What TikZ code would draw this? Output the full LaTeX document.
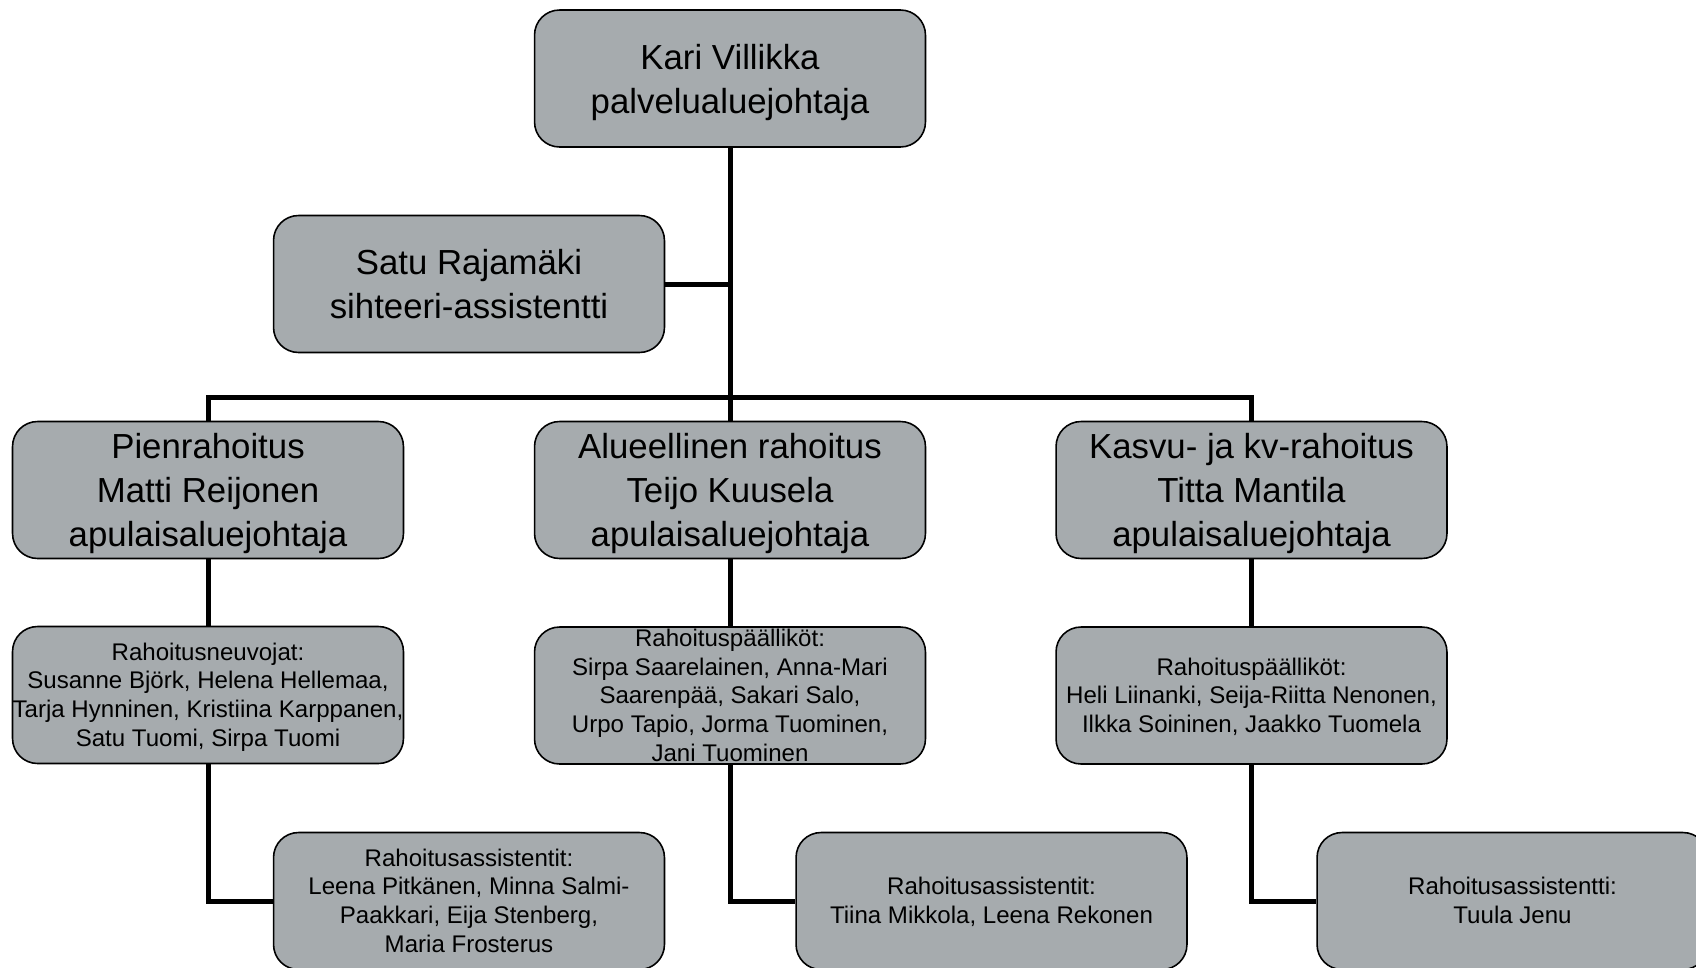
\documentclass[tikz,border=0pt]{standalone}
\usepackage{fontspec}
\setmainfont{Liberation Sans}
\definecolor{boxgray}{RGB}{166,171,174}
\newcommand{\orgbigs}{\rule[-5.25pt]{0pt}{25pt}}
\newcommand{\orgsmalls}{\rule[-3.45pt]{0pt}{16.4pt}}
\begin{document}
\begin{tikzpicture}[x=0.02cm,y=-0.02cm,
  box/.style={draw=black,line width=0.9pt,fill=boxgray,rounded corners=0.5cm,
    minimum width=7.82cm,minimum height=2.74cm,inner sep=0pt},
  big/.style={inner sep=0pt,align=center,font=\fontsize{19.8}{25}\selectfont},
  small/.style={inner sep=0pt,align=center,font=\fontsize{13.7}{16.4}\selectfont},
  conn/.style={line width=0.1cm,black}]
\useasboundingbox (0,0) rectangle (1696,967);
\clip (0,0) rectangle (1696,967);
\node[box] (top) at (730,78.5) {};
\node[box] (satu) at (469,284) {};
\node[box] (l2l) at (208,490) {};
\node[box] (l2m) at (730,490) {};
\node[box] (l2r) at (1251.5,490) {};
\node[box] (l3l) at (208,695) {};
\node[box] (l3m) at (730,695.5) {};
\node[box] (l3r) at (1251.5,695.5) {};
\node[box] (l4l) at (469,901) {};
\node[box] (l4m) at (991.5,901) {};
\node[box] (l4r) at (1512.5,901) {};
\node[big] (top-t) at (top) {\orgbigs Kari Villikka\\palvelualuejohtaja\orgbigs};
\node[big] (satu-t) at (satu) {\orgbigs Satu Rajamäki\\sihteeri-assistentti\orgbigs};
\node[big] (l2l-t) at (l2l) {\orgbigs Pienrahoitus\\Matti Reijonen\\apulaisaluejohtaja\orgbigs};
\node[big] (l2m-t) at (l2m) {\orgbigs Alueellinen rahoitus\\Teijo Kuusela\\apulaisaluejohtaja\orgbigs};
\node[big] (l2r-t) at (l2r) {\orgbigs Kasvu- ja kv-rahoitus\\Titta Mantila\\apulaisaluejohtaja\orgbigs};
\node[small] (l3l-t) at (l3l) {\orgsmalls Rahoitusneuvojat:\\Susanne Björk, Helena Hellemaa,\\Tarja Hynninen, Kristiina Karppanen,\\Satu Tuomi, Sirpa Tuomi\orgsmalls};
\node[small] (l3m-t) at (l3m) {\orgsmalls Rahoituspäälliköt:\\Sirpa Saarelainen, Anna-Mari\\Saarenpää, Sakari Salo,\\Urpo Tapio, Jorma Tuominen,\\Jani Tuominen\orgsmalls};
\node[small] (l3r-t) at (l3r) {\orgsmalls Rahoituspäälliköt:\\Heli Liinanki, Seija-Riitta Nenonen,\\Ilkka Soininen, Jaakko Tuomela\orgsmalls};
\node[small] (l4l-t) at (l4l) {\orgsmalls Rahoitusassistentit:\\Leena Pitkänen, Minna Salmi-\\Paakkari, Eija Stenberg,\\Maria Frosterus\orgsmalls};
\node[small] (l4m-t) at (l4m) {\orgsmalls Rahoitusassistentit:\\Tiina Mikkola, Leena Rekonen\orgsmalls};
\node[small] (l4r-t) at (l4r) {\orgsmalls Rahoitusassistentti:\\Tuula Jenu\orgsmalls};
\coordinate (bus) at (730,397);
\draw[conn] (top.south) -- (l2m.north);
\draw[conn] (satu.east) -- (satu.east -| top.south);
\draw[conn] (l2l.north) |- (bus) -| (l2r.north);
\draw[conn] (l2l.south) -- (l3l.north);
\draw[conn] (l2m.south) -- (l3m.north);
\draw[conn] (l2r.south) -- (l3r.north);
\draw[conn] (l3l.south) |- (l4l.west);
\draw[conn] (l3m.south) |- (l4m.west);
\draw[conn] (l3r.south) |- (l4r.west);
\end{tikzpicture}
\end{document}
